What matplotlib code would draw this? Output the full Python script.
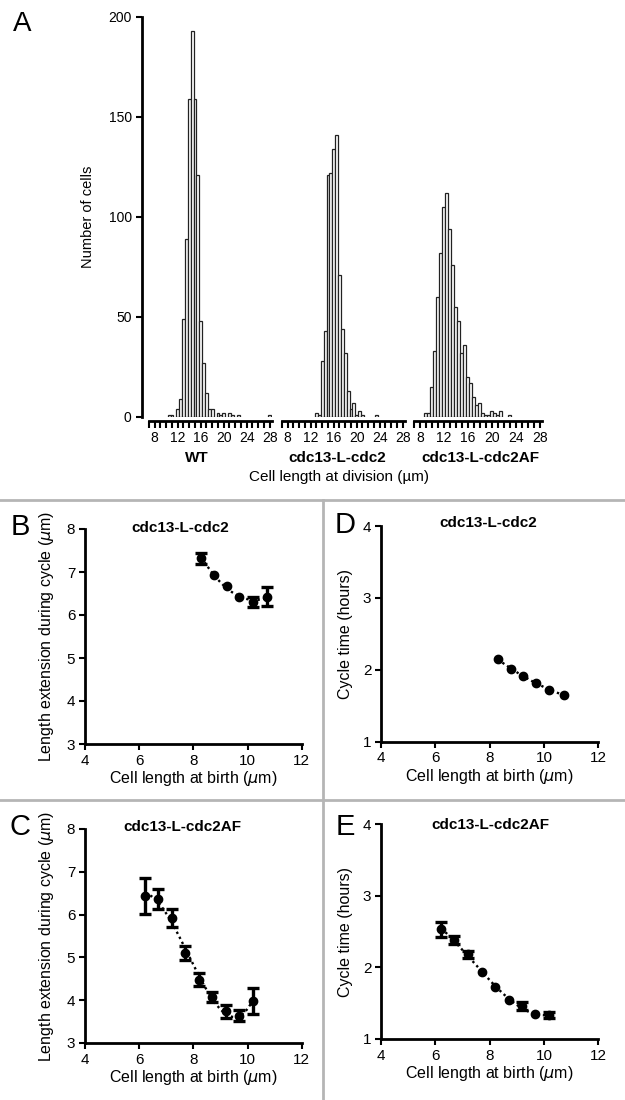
import matplotlib
matplotlib.use("Agg")
import matplotlib.pyplot as plt
import numpy as np

plt.rcParams['font.family'] = ['Liberation Sans', 'DejaVu Sans']

# ---------------- data ----------------
# Panel A histograms (bin centres in um, bin width 0.5 um)
wt_centers = [10.5, 11.0, 12.0, 12.5, 13.0, 13.5, 14.0, 14.5, 15.0, 15.5, 16.0, 16.5,
              17.0, 17.5, 18.0, 19.0, 19.5, 20.0, 21.0, 21.5, 22.5, 28.0]
wt_counts = [1, 1, 4, 9, 49, 89, 159, 193, 159, 121, 48, 27,
             12, 4, 4, 2, 1, 2, 2, 1, 1, 1]

l2_centers = [13.0, 13.5, 14.0, 14.5, 15.0, 15.5, 16.0, 16.5, 17.0, 17.5, 18.0, 18.5,
              19.0, 19.5, 20.0, 20.5, 21.0, 23.5]
l2_counts = [2, 1, 28, 43, 121, 122, 134, 141, 71, 44, 32, 13,
             4, 7, 1, 3, 1, 1]

af_centers = [9.0, 9.5, 10.0, 10.5, 11.0, 11.5, 12.0, 12.5, 13.0, 13.5, 14.0, 14.5,
              15.0, 15.5, 16.0, 16.5, 17.0, 17.5, 18.0, 18.5, 19.0, 19.5, 20.0, 20.5,
              21.0, 21.5, 23.0]
af_counts = [2, 2, 15, 33, 60, 82, 105, 112, 94, 76, 55, 48,
             32, 36, 20, 17, 10, 6, 7, 2, 1, 1, 3, 2,
             1, 3, 1]

hist_groups = ["WT", "cdc13-L-cdc2", "cdc13-L-cdc2AF"]
hist_xticks = [8, 12, 16, 20, 24, 28]
hist_yticks = [0, 50, 100, 150, 200]

# Panels B / D (cdc13-L-cdc2)
b_x = [8.3, 8.77, 9.23, 9.7, 10.2, 10.72]
b_ext = [7.32, 6.93, 6.68, 6.41, 6.30, 6.43]
b_ext_err = [0.13, 0.02, 0.02, 0.02, 0.11, 0.23]
d_time = [2.15, 2.01, 1.92, 1.82, 1.72, 1.65]
d_time_err = [0.02, 0.02, 0.02, 0.02, 0.02, 0.02]

# Panels C / E (cdc13-L-cdc2AF)
c_x = [6.22, 6.7, 7.2, 7.7, 8.2, 8.7, 9.2, 9.68, 10.2]
c_ext = [6.44, 6.36, 5.92, 5.10, 4.48, 4.07, 3.74, 3.64, 3.98]
c_ext_err = [0.42, 0.23, 0.20, 0.17, 0.15, 0.12, 0.15, 0.13, 0.31]
e_time = [2.53, 2.38, 2.18, 1.93, 1.72, 1.55, 1.46, 1.35, 1.33]
e_time_err = [0.10, 0.06, 0.05, 0.02, 0.02, 0.02, 0.05, 0.02, 0.04]

birth_xticks = [4, 6, 8, 10, 12]

# ---------------- figure ----------------
W, H = 625, 1100
fig = plt.figure(figsize=(W / 100, H / 100), dpi=100)


def ax_px(l, t, r, b):
    return fig.add_axes([l / W, 1 - b / H, (r - l) / W, (b - t) / H])


def ftext(x, y, s, **kw):
    fig.text(x / W, 1 - y / H, s, **kw)


# ---- Panel A ----
hist_pos = [(149, 272), (282, 405), (414, 542)]
hist_data = [(wt_centers, wt_counts), (l2_centers, l2_counts), (af_centers, af_counts)]
for i, ((l, r), (cx, cy)) in enumerate(zip(hist_pos, hist_data)):
    ax = ax_px(l, 16.7, r, 416.7)
    ax.bar(cx, cy, width=0.5, color='white', edgecolor='#222222', linewidth=0.9)
    ax.set_xlim(7.0, 28.4)
    ax.set_ylim(0, 200)
    ax.spines['top'].set_visible(False)
    ax.spines['right'].set_visible(False)
    ax.spines['bottom'].set_position(('outward', 3))
    ax.spines['bottom'].set_linewidth(2)
    ax.set_xticks(hist_xticks)
    ax.set_xticks(np.arange(7, 29, 1), minor=True)
    ax.tick_params(axis='x', which='both', direction='out', length=5, width=1.5,
                   labelsize=10, pad=2)
    if i == 0:
        ax.spines['left'].set_position(('outward', 5))
        ax.spines['left'].set_linewidth(2)
        ax.set_yticks(hist_yticks)
        ax.tick_params(axis='y', direction='out', length=4, width=1.5, labelsize=10)
    else:
        ax.spines['left'].set_visible(False)
        ax.set_yticks([])

ftext(88, 217, "Number of cells", rotation=90, ha='center', va='center', fontsize=10.5)
group_x = [197, 337, 480]
for gx, g in zip(group_x, hist_groups):
    ftext(gx, 458, g, ha='center', va='center', fontsize=11, fontweight='bold')
ftext(339, 477, "Cell length at division (\u00b5m)", ha='center', va='center', fontsize=11)
ftext(22, 24, "A", ha='center', va='center', fontsize=20)

# ---- separators ----
sep_color = '#b5b5b5'
fig.add_artist(plt.Line2D([0, 1], [1 - 500 / H, 1 - 500 / H], color=sep_color, lw=2))
fig.add_artist(plt.Line2D([0, 1], [1 - 800 / H, 1 - 800 / H], color=sep_color, lw=2))
fig.add_artist(plt.Line2D([323 / W, 323 / W], [0, 1 - 500 / H], color=sep_color, lw=2))


def scatter_panel(ax, x, y, err, ylim, yticks, deg):
    x = np.asarray(x)
    y = np.asarray(y)
    err = np.asarray(err)
    xs = np.linspace(x.min(), x.max(), 200)
    coef = np.polyfit(x, y, deg)
    ax.plot(xs, np.polyval(coef, xs), ls=(0, (1, 1.4)), color='black', lw=1.7)
    # error bars only where they extend beyond the marker
    big = err > 0.035
    if big.any():
        ax.errorbar(x[big], y[big], yerr=err[big], fmt='none', ecolor='black',
                    capsize=4.5, elinewidth=2.4, capthick=2.4)
    ax.plot(x, y, 'o', color='black', ms=6)
    ax.set_xlim(4, 12)
    ax.set_ylim(*ylim)
    ax.set_xticks(birth_xticks)
    ax.set_yticks(yticks)
    for s in ['top', 'right']:
        ax.spines[s].set_visible(False)
    for s in ['left', 'bottom']:
        ax.spines[s].set_linewidth(2)
    ax.tick_params(direction='out', length=4, width=1.5, labelsize=11, pad=3)
    ax.set_xlabel("Cell length at birth ($\\mu$m)", fontsize=11.5, labelpad=1)


# B
axB = ax_px(85, 529, 301.7, 744)
scatter_panel(axB, b_x, b_ext, b_ext_err, (3, 8), [3, 4, 5, 6, 7, 8], 2)
ftext(47, 636, "Length extension during cycle ($\\mu$m)", rotation=90, ha='center',
      va='center', fontsize=11.5)
ftext(180, 528, "cdc13-L-cdc2", ha='center', va='center', fontsize=11, fontweight='bold')
ftext(20, 527, "B", ha='center', va='center', fontsize=21)

# D
axD = ax_px(381, 526, 598.3, 741.7)
scatter_panel(axD, b_x, d_time, d_time_err, (1, 4), [1, 2, 3, 4], 2)
ftext(345, 634, "Cycle time (hours)", rotation=90, ha='center', va='center', fontsize=11.5)
ftext(488, 523, "cdc13-L-cdc2", ha='center', va='center', fontsize=11, fontweight='bold')
ftext(345, 525, "D", ha='center', va='center', fontsize=21)

# C
axC = ax_px(85, 829, 301.7, 1043)
scatter_panel(axC, c_x, c_ext, c_ext_err, (3, 8), [3, 4, 5, 6, 7, 8], 3)
ftext(47, 936, "Length extension during cycle ($\\mu$m)", rotation=90, ha='center',
      va='center', fontsize=11.5)
ftext(182, 827, "cdc13-L-cdc2AF", ha='center', va='center', fontsize=11, fontweight='bold')
ftext(20, 827, "C", ha='center', va='center', fontsize=21)

# E
axE = ax_px(381, 824, 598.3, 1039)
scatter_panel(axE, c_x, e_time, e_time_err, (1, 4), [1, 2, 3, 4], 3)
ftext(345, 932, "Cycle time (hours)", rotation=90, ha='center', va='center', fontsize=11.5)
ftext(490, 825, "cdc13-L-cdc2AF", ha='center', va='center', fontsize=11, fontweight='bold')
ftext(345, 827, "E", ha='center', va='center', fontsize=21)

fig.savefig("out.png", dpi=100)
